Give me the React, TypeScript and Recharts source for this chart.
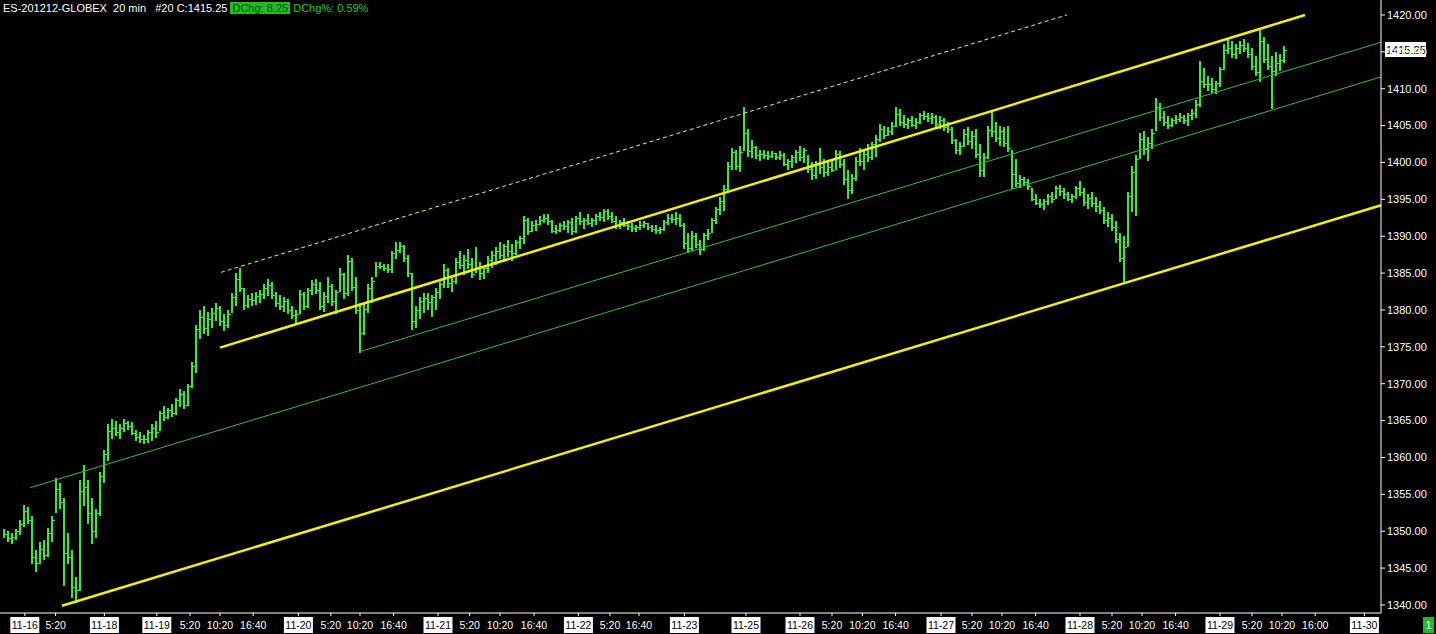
import React from 'react'
import { ComposedChart, Bar, XAxis, YAxis, ReferenceLine } from 'recharts'

// ES-201212 20 min bars, 11-16 .. 11-29 (bar index on x)
const highs = [
  1350.25, 1350.0, 1349.75, 1350.25, 1351.5, 1353.5, 1353.25, 1352.0, 1347.5, 1348.5,
  1348.75, 1350.5, 1352.0, 1357.25, 1356.5, 1354.5, 1349.75, 1347.5, 1343.75, 1357.0,
  1359.0, 1357.0, 1354.5, 1353.0, 1358.0, 1361.0, 1364.5, 1365.25, 1365.0, 1364.5,
  1365.25, 1365.0, 1364.75, 1363.75, 1363.5, 1363.0, 1363.75, 1364.5, 1365.0, 1366.25,
  1367.0, 1366.75, 1367.25, 1368.0, 1369.25, 1369.0, 1370.0, 1373.0, 1378.0, 1380.0,
  1380.5, 1379.75, 1380.25, 1381.0, 1380.5, 1379.5, 1380.0, 1382.25, 1385.0, 1385.75,
  1383.0, 1382.0, 1382.25, 1382.5, 1382.75, 1383.5, 1384.25, 1383.75, 1382.5, 1382.0,
  1381.75, 1381.5, 1380.5, 1380.0, 1382.75, 1382.5, 1383.0, 1384.0, 1384.25, 1383.75,
  1382.5, 1384.5, 1383.5, 1382.75, 1385.75, 1385.0, 1387.5, 1387.0, 1384.5, 1381.0,
  1380.75, 1383.5, 1384.5, 1386.5, 1386.5, 1386.25, 1386.25, 1388.0, 1389.25, 1389.25,
  1388.75, 1387.5, 1385.0, 1380.5, 1381.75, 1382.25, 1382.25, 1382.0, 1383.0, 1383.75,
  1386.25, 1385.75, 1384.5, 1387.0, 1388.0, 1387.5, 1388.25, 1387.0, 1388.5, 1386.5,
  1386.0, 1387.25, 1388.0, 1388.5, 1389.25, 1389.0, 1389.5, 1389.0, 1389.5, 1390.0,
  1392.75, 1392.5, 1392.0, 1392.25, 1392.75, 1393.0, 1393.0, 1392.25, 1391.5, 1391.75,
  1392.0, 1392.25, 1392.5, 1392.75, 1393.25, 1392.5, 1393.0, 1392.5, 1393.0, 1393.25,
  1393.75, 1393.75, 1393.25, 1392.75, 1392.25, 1392.5, 1392.0, 1391.75, 1391.5, 1392.0,
  1392.0, 1391.75, 1391.5, 1391.5, 1391.25, 1392.25, 1393.0, 1393.0, 1393.25, 1393.0,
  1391.75, 1390.5, 1390.75, 1390.5, 1389.5, 1390.5, 1391.0, 1392.5, 1394.0, 1395.25,
  1397.0, 1400.0, 1402.0, 1401.75, 1402.25, 1407.5, 1404.5, 1403.0, 1402.25, 1401.75,
  1401.75, 1401.5, 1401.5, 1401.25, 1401.5, 1401.25, 1400.5, 1401.0, 1401.75, 1402.25,
  1402.0, 1401.0, 1400.0, 1400.25, 1402.0, 1400.5, 1400.25, 1400.5, 1401.75, 1401.5,
  1400.5, 1399.0, 1398.5, 1400.75, 1402.0, 1401.75, 1402.5, 1402.75, 1403.75, 1405.25,
  1405.0, 1404.75, 1405.5, 1407.5, 1407.25, 1406.5, 1406.0, 1406.25, 1406.0, 1406.75,
  1407.0, 1406.75, 1406.75, 1406.5, 1406.25, 1406.0, 1405.5, 1404.75, 1403.25, 1402.75,
  1404.5, 1404.75, 1404.25, 1404.5, 1402.5, 1401.25, 1405.0, 1407.0, 1405.5, 1405.0,
  1404.75, 1405.0, 1401.75, 1400.5, 1398.25, 1398.0, 1397.75, 1396.5, 1395.75, 1395.0,
  1395.0, 1395.75, 1396.0, 1396.75, 1397.0, 1396.5, 1396.0, 1395.75, 1396.75, 1397.5,
  1396.5, 1395.75, 1396.0, 1395.25, 1394.75, 1394.0, 1393.25, 1393.0, 1392.0, 1390.5,
  1390.0, 1396.0, 1399.5, 1401.0, 1404.0, 1404.25, 1403.5, 1404.5, 1408.75, 1408.0,
  1407.0, 1406.25, 1406.0, 1406.5, 1406.75, 1406.5, 1406.75, 1407.25, 1408.5, 1413.75,
  1412.75, 1411.75, 1411.5, 1411.0, 1413.0, 1416.0, 1416.75, 1416.5, 1416.0, 1416.5,
  1416.75, 1416.25, 1415.5, 1414.5, 1418.0, 1417.0, 1416.0, 1414.5, 1415.0, 1414.75,
  1415.75,
]

const lows = [
  1349.0, 1348.5, 1348.25, 1348.75, 1349.5, 1350.5, 1351.0, 1345.5, 1344.5, 1345.5,
  1346.0, 1346.5, 1348.5, 1352.5, 1353.0, 1342.5, 1345.5, 1341.0, 1340.25, 1342.0,
  1353.5, 1351.0, 1348.25, 1349.0, 1352.0, 1356.5, 1359.5, 1362.5, 1363.0, 1362.5,
  1363.5, 1363.75, 1363.0, 1362.25, 1362.0, 1361.75, 1362.0, 1362.25, 1362.75, 1363.5,
  1365.0, 1365.25, 1365.5, 1365.75, 1366.75, 1366.5, 1367.0, 1369.5, 1371.5, 1376.0,
  1376.75, 1376.5, 1377.5, 1378.5, 1377.75, 1377.25, 1377.5, 1379.5, 1380.5, 1382.5,
  1380.0, 1380.25, 1380.5, 1380.75, 1381.0, 1381.5, 1382.0, 1381.5, 1380.5, 1380.0,
  1379.75, 1379.5, 1378.75, 1378.25, 1379.5, 1380.0, 1380.25, 1382.0, 1382.25, 1380.0,
  1379.75, 1381.0, 1380.5, 1379.5, 1382.5, 1381.5, 1382.0, 1382.5, 1379.5, 1374.25,
  1376.5, 1379.5, 1381.0, 1384.5, 1385.5, 1385.25, 1385.0, 1385.0, 1387.0, 1387.75,
  1386.5, 1384.5, 1377.25, 1377.5, 1378.75, 1379.5, 1380.0, 1379.0, 1380.0, 1381.5,
  1383.0, 1383.0, 1382.5, 1383.5, 1385.5, 1384.75, 1385.5, 1384.25, 1385.0, 1384.0,
  1384.25, 1385.0, 1385.75, 1386.0, 1387.0, 1386.5, 1387.25, 1386.75, 1387.5, 1388.25,
  1389.0, 1390.25, 1390.5, 1390.75, 1391.5, 1391.75, 1391.5, 1390.5, 1390.25, 1390.5,
  1390.75, 1390.5, 1390.25, 1390.5, 1391.5, 1391.0, 1391.5, 1391.25, 1391.5, 1392.0,
  1392.0, 1392.25, 1391.75, 1391.0, 1391.0, 1391.25, 1390.75, 1390.5, 1390.5, 1390.75,
  1391.0, 1390.75, 1390.5, 1390.25, 1390.25, 1390.75, 1391.5, 1391.75, 1391.5, 1391.25,
  1388.25, 1387.75, 1388.0, 1388.5, 1387.5, 1388.0, 1389.5, 1390.5, 1391.75, 1392.75,
  1393.5, 1396.0, 1399.0, 1399.0, 1398.75, 1401.5, 1400.75, 1400.5, 1400.5, 1400.25,
  1400.5, 1400.25, 1400.5, 1400.25, 1400.25, 1399.5, 1399.0, 1399.25, 1400.0, 1400.25,
  1400.0, 1398.5, 1397.5, 1397.75, 1398.5, 1398.0, 1398.25, 1398.75, 1399.0, 1399.25,
  1397.0, 1395.0, 1395.75, 1397.5, 1399.5, 1399.0, 1400.0, 1400.25, 1400.75, 1402.75,
  1403.25, 1403.5, 1403.75, 1404.75, 1405.0, 1404.75, 1404.5, 1404.75, 1404.5, 1405.25,
  1405.75, 1405.5, 1405.25, 1404.75, 1404.5, 1404.25, 1404.0, 1402.5, 1401.25, 1401.0,
  1402.0, 1402.25, 1401.75, 1400.5, 1398.0, 1398.0, 1400.5, 1403.5, 1402.75, 1402.25,
  1402.0, 1401.5, 1396.5, 1396.75, 1396.5, 1396.75, 1396.25, 1394.75, 1394.25, 1393.75,
  1393.5, 1394.25, 1394.5, 1395.0, 1395.5, 1395.0, 1394.75, 1394.5, 1395.0, 1395.5,
  1394.0, 1393.75, 1394.0, 1393.25, 1393.0, 1391.75, 1391.25, 1390.75, 1389.0, 1386.5,
  1383.75, 1388.5, 1393.25, 1392.75, 1400.5, 1401.0, 1400.25, 1401.75, 1404.25, 1405.5,
  1405.0, 1404.5, 1404.75, 1405.25, 1405.5, 1405.25, 1405.0, 1405.75, 1406.0, 1407.5,
  1410.0, 1409.75, 1409.5, 1409.25, 1410.25, 1412.5, 1414.75, 1414.25, 1414.0, 1414.75,
  1415.0, 1414.25, 1412.5, 1411.75, 1411.0, 1413.5, 1412.5, 1407.25, 1411.75, 1412.5,
  1413.5,
]

const closes = [
  1349.5, 1349.0, 1349.25, 1350.0, 1351.0, 1352.75, 1351.5, 1346.5, 1345.75, 1347.5,
  1346.75, 1349.75, 1351.5, 1355.75, 1354.0, 1347.0, 1346.5, 1342.5, 1342.0, 1355.5,
  1356.0, 1352.5, 1350.0, 1352.5, 1357.5, 1360.5, 1363.5, 1364.0, 1363.5, 1364.0,
  1364.75, 1364.25, 1363.25, 1362.75, 1362.5, 1362.5, 1363.5, 1364.0, 1363.5, 1366.0,
  1365.5, 1366.5, 1366.0, 1367.75, 1368.5, 1367.0, 1369.75, 1372.5, 1377.5, 1379.0,
  1377.5, 1378.75, 1379.5, 1380.25, 1378.5, 1378.0, 1379.5, 1381.75, 1384.25, 1383.0,
  1380.75, 1381.5, 1381.25, 1382.0, 1382.25, 1383.0, 1383.5, 1382.0, 1381.0, 1380.5,
  1381.25, 1380.0, 1379.25, 1379.5, 1382.25, 1380.5, 1382.75, 1383.5, 1382.75, 1380.5,
  1382.0, 1383.25, 1381.25, 1382.5, 1385.0, 1382.25, 1386.75, 1383.0, 1380.0, 1377.0,
  1380.0, 1383.0, 1384.0, 1386.0, 1386.0, 1385.75, 1385.5, 1387.75, 1388.25, 1388.75,
  1387.0, 1385.0, 1378.5, 1380.0, 1381.25, 1381.5, 1381.0, 1381.75, 1382.5, 1383.5,
  1385.5, 1383.75, 1384.0, 1386.5, 1386.0, 1386.75, 1386.25, 1384.75, 1385.75, 1385.0,
  1385.75, 1386.75, 1387.5, 1388.0, 1387.5, 1388.75, 1388.0, 1387.75, 1389.25, 1389.75,
  1392.25, 1390.75, 1391.5, 1391.75, 1392.25, 1392.5, 1392.0, 1390.75, 1390.75, 1391.5,
  1391.25, 1392.0, 1390.75, 1392.5, 1392.0, 1392.25, 1391.75, 1392.25, 1392.75, 1392.5,
  1393.5, 1392.75, 1392.0, 1391.5, 1392.0, 1391.5, 1391.25, 1391.0, 1391.25, 1391.5,
  1391.75, 1391.25, 1391.0, 1390.75, 1391.0, 1392.0, 1392.5, 1392.25, 1392.5, 1391.5,
  1389.0, 1388.5, 1390.0, 1389.0, 1388.25, 1390.25, 1390.5, 1392.25, 1393.75, 1394.75,
  1396.5, 1399.5, 1401.5, 1399.5, 1401.5, 1404.0, 1401.5, 1402.0, 1401.0, 1401.25,
  1401.0, 1400.75, 1401.25, 1400.75, 1401.0, 1399.75, 1400.25, 1400.75, 1401.5, 1400.75,
  1401.75, 1399.0, 1398.25, 1400.0, 1399.5, 1398.75, 1399.5, 1399.0, 1401.25, 1399.75,
  1397.75, 1396.25, 1398.0, 1400.25, 1400.25, 1401.25, 1400.75, 1402.5, 1403.25, 1404.5,
  1403.75, 1404.25, 1405.0, 1406.5, 1405.5, 1405.25, 1405.75, 1405.0, 1405.5, 1406.5,
  1406.25, 1406.0, 1406.25, 1405.25, 1405.75, 1404.75, 1404.5, 1403.0, 1401.75, 1402.25,
  1403.75, 1402.75, 1403.5, 1401.0, 1399.0, 1400.75, 1404.5, 1404.25, 1403.25, 1404.25,
  1402.5, 1402.0, 1398.5, 1397.25, 1397.75, 1397.25, 1396.75, 1395.0, 1394.5, 1394.25,
  1394.75, 1395.5, 1395.0, 1396.5, 1396.25, 1395.75, 1395.0, 1395.5, 1396.5, 1396.0,
  1394.5, 1395.25, 1394.5, 1394.0, 1393.5, 1392.25, 1392.5, 1391.25, 1389.5, 1387.0,
  1388.5, 1395.5, 1398.75, 1400.5, 1403.25, 1401.75, 1402.75, 1404.0, 1407.5, 1406.0,
  1405.5, 1405.0, 1405.75, 1406.0, 1406.25, 1405.75, 1406.5, 1406.75, 1408.0, 1411.0,
  1410.5, 1410.75, 1410.0, 1410.75, 1412.75, 1415.25, 1415.5, 1414.75, 1415.5, 1416.0,
  1415.5, 1414.75, 1413.0, 1412.25, 1416.5, 1414.0, 1413.0, 1412.5, 1413.5, 1414.0,
  1415.25,
]

// time axis (bar index where each label sits)
const timeTicks = [
  5.2, 12.9, 25.1, 38.2, 46.5, 54, 62.3, 73.6, 81.7, 89, 97.4, 108.5, 116.4, 124,
  132.5, 143.6, 151.5, 158.75, 170.1, 185.5, 199, 207, 214.6, 222.9, 234.25, 242,
  249.5, 257.9, 269, 277, 284.5, 292.9, 304, 312, 319.5, 327.8, 340.1,
]
const timeLabels = [
  '11-16', '5:20', '11-18', '11-19', '5:20', '10:20', '16:40', '11-20', '5:20', '10:20',
  '16:40', '11-21', '5:20', '10:20', '16:40', '11-22', '5:20', '16:40', '11-23', '11-25',
  '11-26', '5:20', '10:20', '16:40', '11-27', '5:20', '10:20', '16:40', '11-28', '5:20',
  '10:20', '16:40', '11-29', '5:20', '10:20', '16:00', '11-30',
]

const priceTicks = [
  1340, 1345, 1350, 1355, 1360, 1365, 1370, 1375, 1380, 1385, 1390, 1395, 1400, 1405,
  1410, 1415, 1420,
]
const lastPrice = 1415.25

// drawn trend lines: [bar index, price] at both ends
const yellowLower = [{ x: 14.5, y: 1339.9 }, { x: 344.25, y: 1394.2 }]
const yellowUpper = [{ x: 54, y: 1374.9 }, { x: 325.25, y: 1420 }]
const dashedUpper = [{ x: 54.25, y: 1385.1 }, { x: 265.75, y: 1420 }]
const greenLower = [{ x: 6.5, y: 1355.9 }, { x: 344.25, y: 1411.6 }]
const greenUpper = [{ x: 89, y: 1374.35 }, { x: 344.25, y: 1416.3 }]

const FONT = "'Liberation Sans', Arial, sans-serif"
const BAR_GREEN = '#3ae83a'

const bars = highs.map((h, i) => ({ i, range: [lows[i], h], high: h, low: lows[i], close: closes[i] }))

function OhlcBar(props: any) {
  const { x, y, width, height, payload } = props
  if (x == null || y == null) return null
  const top = Math.round(Math.min(y, y + height))
  const h = Math.max(Math.round(Math.abs(height)), 1)
  const left = Math.round(x + width / 2) - 1
  const span = payload.high - payload.low
  const cy = span > 0 ? top + ((payload.high - payload.close) / span) * h : top
  return (
    <g>
      <rect x={left} y={top} width={2} height={h} fill={BAR_GREEN} />
      <rect x={left + 2} y={Math.round(cy)} width={2} height={1} fill={BAR_GREEN} />
    </g>
  )
}

function TimeTick(props: any) {
  const { x, y, payload } = props
  const label = timeLabels[timeTicks.indexOf(payload.value)] ?? ''
  const isDate = label.includes('-')
  return (
    <g>
      {isDate && <rect x={x - 14.5} y={y - 1} width={29} height={16} fill="#ffffff" />}
      <text x={x} y={y + 11} textAnchor="middle" fill={isDate ? '#000000' : '#ffffff'} fontSize={10.5} fontFamily={FONT}>
        {label}
      </text>
    </g>
  )
}

function PriceTag(props: any) {
  const vb = props.viewBox
  if (!vb) return null
  const left = vb.x + vb.width + 4
  return (
    <g>
      <rect x={left} y={vb.y - 8} width={41} height={15} fill="#ffffff" />
      <text x={left + 1} y={vb.y + 4} fill="#000000" fontSize={11} fontFamily={FONT}>
        {lastPrice.toFixed(2)}
      </text>
    </g>
  )
}

export default function App() {
  return (
    <div style={{ position: 'absolute', left: 0, top: 0, width: 1436, height: 634, background: '#000', overflow: 'hidden' }}>
      <ComposedChart width={1436} height={634} data={bars} margin={{ top: 0, right: 0, bottom: 0, left: 0 }}>
        <XAxis
          dataKey="i"
          type="number"
          domain={[-1, 344.25]}
          allowDataOverflow
          ticks={timeTicks}
          interval={0}
          tick={<TimeTick />}
          tickSize={3}
          height={21}
          axisLine={{ stroke: '#ffffff' }}
          tickLine={{ stroke: '#ffffff' }}
        />
        <YAxis
          orientation="right"
          domain={[1338.91, 1422.03]}
          allowDataOverflow
          ticks={priceTicks}
          interval={0}
          width={55}
          tickSize={4}
          tickFormatter={(v: number) => v.toFixed(2)}
          tick={{ fill: '#ffffff', fontSize: 11, fontFamily: FONT }}
          axisLine={{ stroke: '#ffffff' }}
          tickLine={{ stroke: '#ffffff' }}
        />
        <ReferenceLine segment={greenLower} stroke="#3cb83c" strokeWidth={1} ifOverflow="visible" />
        <ReferenceLine segment={greenUpper} stroke="#3cb83c" strokeWidth={1} ifOverflow="visible" />
        <ReferenceLine segment={dashedUpper} stroke="#e8e89a" strokeWidth={1} strokeDasharray="4 3" ifOverflow="visible" />
        <Bar dataKey="range" barSize={3} shape={<OhlcBar />} isAnimationActive={false} />
        <ReferenceLine segment={yellowLower} stroke="#f2f200" strokeWidth={2.5} ifOverflow="visible" />
        <ReferenceLine segment={yellowUpper} stroke="#f2f200" strokeWidth={2.5} ifOverflow="visible" />
        <ReferenceLine y={lastPrice} stroke="none" ifOverflow="visible" label={<PriceTag />} />
      </ComposedChart>
      <div style={{ position: 'absolute', left: 3, top: 0, height: 15, display: 'flex', alignItems: 'center', fontFamily: FONT, fontSize: 11, whiteSpace: 'pre' }}>
        <span style={{ color: '#ffffff' }}>{'ES-201212-GLOBEX  20 min   #20 C:1415.25 '}</span>
        <span style={{ background: '#22bb22', color: '#0a4a0a', padding: '0 2px' }}>DChg: 8.25</span>
        <span style={{ color: '#22cc22' }}>{' DChg%: 0.59%'}</span>
      </div>
      <div style={{ position: 'absolute', left: 1423, top: 617, width: 11, height: 16, background: '#22bb22', color: '#ffffff', fontFamily: FONT, fontSize: 11, textAlign: 'center', lineHeight: '16px' }}>
        1
      </div>
    </div>
  )
}
